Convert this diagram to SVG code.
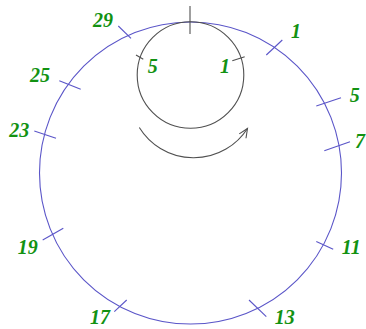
<svg xmlns="http://www.w3.org/2000/svg" width="366" height="329" viewBox="0 0 366 329">
<style>
.big{fill:none;stroke:#5a55c8;stroke-width:1.1}
.tick{stroke:#5a55c8;stroke-width:1.1}
.small{fill:none;stroke:#505050;stroke-width:1.1}
.stick{stroke:#505050;stroke-width:1.1}
.lbl{font-family:"Liberation Serif",serif;font-weight:bold;font-style:italic;font-size:20px;fill:#129212;text-anchor:middle}
</style>
<defs>
<marker id="arr" markerWidth="12" markerHeight="12" refX="10" refY="5" orient="auto" markerUnits="userSpaceOnUse">
<path d="M1,1 L10,5 L1,9" fill="none" stroke="#505050" stroke-width="1.1"/>
</marker>
</defs>
<rect width="366" height="329" fill="#fff"/>
<g id="big-circle">
<circle class="big" cx="190.5" cy="173" r="151"/>
<g id="big-ticks">
<line class="tick" x1="266.3" y1="55" x2="282.3" y2="40"/>
<line class="tick" x1="316.3" y1="106" x2="341" y2="97.7"/>
<line class="tick" x1="324.3" y1="150.7" x2="350" y2="141.7"/>
<line class="tick" x1="316.3" y1="241.5" x2="333.2" y2="249.3"/>
<line class="tick" x1="249" y1="300" x2="266.3" y2="316.7"/>
<line class="tick" x1="114.3" y1="311.7" x2="126.7" y2="300"/>
<line class="tick" x1="42.7" y1="240" x2="63.3" y2="228.3"/>
<line class="tick" x1="34.3" y1="131" x2="56" y2="138.3"/>
<line class="tick" x1="59.3" y1="80.7" x2="80.7" y2="89.3"/>
<line class="tick" x1="118.3" y1="26" x2="131" y2="38.3"/>
</g>
</g>
<g id="small-circle">
<circle class="small" cx="190.5" cy="75" r="53.3"/>
<line class="stick" x1="190" y1="6" x2="190" y2="34"/>
<line class="stick" x1="136" y1="55" x2="143.3" y2="59.3"/>
<line class="stick" x1="232.3" y1="60.7" x2="244.7" y2="56.7"/>
</g>
<g id="connectors">
<path class="small" d="M139.3,127.5 A64,64 0 0 0 247.5,128.5" marker-end="url(#arr)"/>
</g>
<g id="labels">
<text class="lbl" x="103" y="26.7">29</text>
<text class="lbl" x="296" y="38.3">1</text>
<text class="lbl" x="354.7" y="101.7">5</text>
<text class="lbl" x="360" y="148">7</text>
<text class="lbl" x="351.3" y="254.3">11</text>
<text class="lbl" x="284.7" y="324.3">13</text>
<text class="lbl" x="100" y="324">17</text>
<text class="lbl" x="27.8" y="254.3">19</text>
<text class="lbl" x="19.3" y="136.7">23</text>
<text class="lbl" x="40" y="81.7">25</text>
<text class="lbl" x="152.8" y="72.7">5</text>
<text class="lbl" x="225" y="72.7">1</text>
</g>
</svg>
